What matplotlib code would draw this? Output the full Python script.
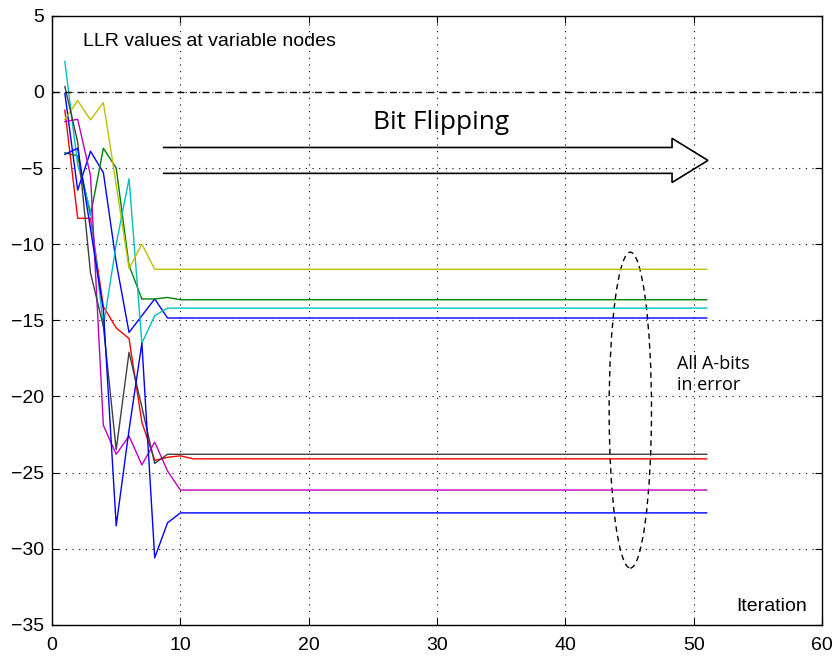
import numpy as np
import matplotlib
matplotlib.use("Agg")
from matplotlib import pyplot as plt
from matplotlib.patches import Ellipse

plt.rcParams['font.family'] = ['Liberation Sans', 'DejaVu Sans']

n_iter = 51
iterations = np.arange(1, n_iter + 1)

# LLR trajectories per variable node: transient part, then the settled value
blue_a_start = [-0.1, -6.45, -3.9, -5.3, -11.2, -15.8, -14.7, -13.6, -14.85]
blue_a_end = -14.85
green_start = [-4.0, -4.2, -8.1, -3.7, -5.0, -11.4, -13.6, -13.6, -13.5, -13.65]
green_end = -13.65
red_start = [-1.2, -8.3, -8.3, -14.1, -15.5, -16.2, -21.7, -24.2, -24.0, -23.9, -24.1]
red_end = -24.1
cyan_start = [2.0, -4.8, -7.8, -15.4, -10.0, -5.7, -16.5, -14.7, -14.2]
cyan_end = -14.2
magenta_start = [-1.95, -1.8, -5.5, -21.9, -23.8, -22.6, -24.5, -23.0, -24.9, -26.15]
magenta_end = -26.15
yellow_start = [-1.8, -0.57, -1.84, -0.7, -6.1, -11.6, -10.0, -11.65]
yellow_end = -11.65
black_start = [0.35, -3.3, -11.9, -15.4, -23.5, -17.1, -20.7, -24.4, -23.8]
black_end = -23.8
blue_b_start = [-4.1, -3.7, -9.0, -14.3, -28.5, -22.2, -16.5, -30.6, -28.3, -27.65]
blue_b_end = -27.65

series = [
    (blue_a_start, blue_a_end, (0, 0, 1)),
    (green_start, green_end, (0, 0.5, 0)),
    (red_start, red_end, (1, 0, 0)),
    (cyan_start, cyan_end, (0, 0.75, 0.75)),
    (magenta_start, magenta_end, (0.75, 0, 0.75)),
    (yellow_start, yellow_end, (0.75, 0.75, 0)),
    (black_start, black_end, (0.25, 0.25, 0.25)),
    (blue_b_start, blue_b_end, (0, 0, 1)),
]

fig = plt.figure(figsize=(8.39, 6.57), dpi=100)
ax = fig.add_axes([0.062, 0.049, 0.918, 0.927])

for start, end, color in series:
    y = start + [end] * (n_iter - len(start))
    ax.plot(iterations, y, color=color, lw=1.0)

ax.axhline(0, color='black', ls=(0, (5, 4)), lw=1.0)

ax.set_xlim(0, 60)
ax.set_ylim(-35, 5)
ax.set_xticks(np.arange(0, 61, 10))
ax.set_yticks(np.arange(-35, 6, 5))
ax.tick_params(axis='both', which='both', direction='in', top=True, right=True,
               labelsize=14, length=5, pad=6)
ax.tick_params(axis='x', pad=9)
ax.grid(True, ls=(0, (1, 5)), color='black', lw=0.8)
for s in ax.spines.values():
    s.set_linewidth(1.0)

ax.text(2.4, 3.9, 'LLR values at variable nodes', fontsize=14, va='top')
ax.text(53.3, -33.8, 'Iteration', fontsize=14, va='center')

# hollow arrow for the flipping phase
ax.text(30.3, -2.0, 'Bit Flipping', fontsize=19, ha='center', va='center',
        family=['Open Sans', 'DejaVu Sans'])
x0, xb, xt = 8.7, 48.3, 51.1
yc = -4.5
ax.plot([x0, xb, xb, xt, xb, xb, x0],
        [yc + 0.85, yc + 0.85, yc + 1.45, yc, yc - 1.45, yc - 0.85, yc - 0.85],
        color='black', lw=1.2, solid_joinstyle='miter')

ax.add_patch(Ellipse((45.05, -20.9), 3.3, 20.75, fill=False, ls=(0, (4, 3)),
                     lw=1.0, edgecolor='black'))
ax.text(48.7, -17.3, 'All A-bits\nin error', fontsize=13, va='top',
        linespacing=1.2, family=['Open Sans', 'DejaVu Sans'])

fig.savefig('out.png', dpi=100)
